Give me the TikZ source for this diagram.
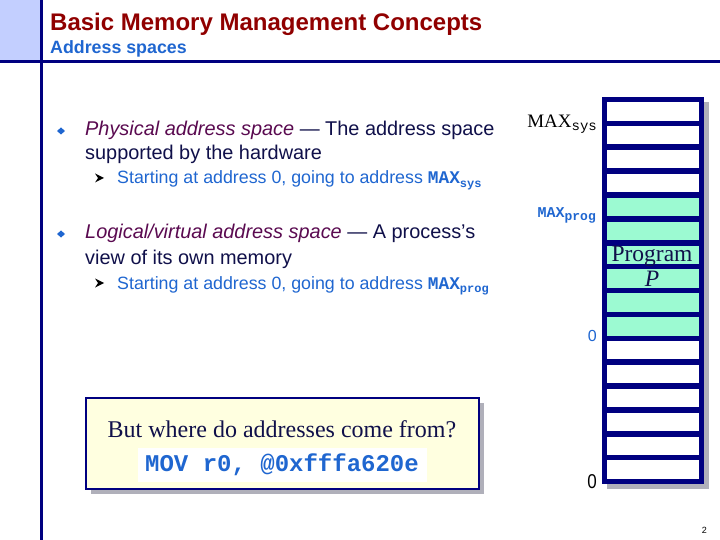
\documentclass[tikz,border=0pt]{standalone}
\usepackage{fontspec}
\setmainfont{Liberation Sans}
\setmonofont{Liberation Mono}
\newfontfamily\tms{Liberation Serif}
\definecolor{navy}{HTML}{000080}
\definecolor{titlered}{HTML}{900000}
\definecolor{subblue}{HTML}{1F66D0}
\definecolor{lav}{HTML}{C3CFFF}
\definecolor{ipurple}{HTML}{5A0A50}
\definecolor{bodyc}{HTML}{10104A}
\definecolor{cellgreen}{HTML}{9CFAD2}
\definecolor{shadowc}{HTML}{B0B0BA}
\definecolor{noteyellow}{HTML}{FFFFE0}
\newcommand{\fs}[1]{\fontsize{#1}{#1}\selectfont}
\newcommand{\maxsub}[1]{{\ttfamily\bfseries MAX\raisebox{-0.4ex}{\fs{12}#1}}}
\tikzset{
  txt/.style={inner sep=0pt, anchor=base west},
  cellbox/.style={draw=navy, line width=5.5pt},
  diam/.style={fill=subblue, draw=none},
  arrowhd/.style={fill=black, draw=none},
}
\begin{document}
\begin{tikzpicture}[x=1pt,y=-1pt]
\useasboundingbox (0,0) rectangle (720,540);
% header
\fill[lav] (0,0) rectangle (41,62);
\draw[navy, line width=3pt] (41,0) -- (41,540);
\draw[navy, line width=3pt] (0,62) -- (720,62);
\node[txt, text=titlered] (title) at (50,31) {\fs{24}\bfseries Basic Memory Management Concepts};
\node[txt, text=subblue] (subtitle) at (50,54) {\fs{17.8}\bfseries Address spaces};
% bullets
\fill[diam] (57,131) -- (61,127.5) -- (65,131) -- (61,134.5) -- cycle;
\node[txt, text=bodyc] (b1a) at (85,136) {\fs{19.9}\textcolor{ipurple}{\itshape Physical address space} — The address space};
\node[txt, text=bodyc] (b1b) at (85,160) {\fs{19.9}supported by the hardware};
\fill[arrowhd] (95,173.5) -- (104,178) -- (95,182.5) -- (98,178) -- cycle;
\node[txt, text=subblue] (s1) at (117,184) {\fs{17.8}Starting at address 0, going to address \maxsub{sys}};
\fill[diam] (57,234) -- (61,230.5) -- (65,234) -- (61,237.5) -- cycle;
\node[txt, text=bodyc] (b2a) at (85,239) {\fs{19.9}\textcolor{ipurple}{\itshape Logical/virtual address space} — A process’s};
\node[txt, text=bodyc] (b2b) at (85,264) {\fs{19.9}view of its own memory};
\fill[arrowhd] (95,278.5) -- (104,283) -- (95,287.5) -- (98,283) -- cycle;
\node[txt, text=subblue] (s2) at (117,289) {\fs{17.8}Starting at address 0, going to address \maxsub{prog}};
% memory column
\fill[shadowc] (607,102) rectangle (709,489);
\foreach \k in {0,...,15}{
  \pgfmathsetmacro{\ya}{99.5+23.875*\k}
  \pgfmathsetmacro{\yb}{99.5+23.875*(\k+1)}
  \ifnum\k>3 \ifnum\k<10
    \filldraw[cellbox, fill=cellgreen] (604.5,\ya) rectangle (701.5,\yb);
  \else
    \filldraw[cellbox, fill=white] (604.5,\ya) rectangle (701.5,\yb);
  \fi\else
    \filldraw[cellbox, fill=white] (604.5,\ya) rectangle (701.5,\yb);
  \fi
}
\node[inner sep=0pt, anchor=base east] (maxsys) at (597,128) {{\tms\fs{19}MAX}\raisebox{-0.45ex}{\ttfamily\fs{14}sys}};
\node[inner sep=0pt, anchor=base east, text=subblue] (maxprog) at (596,218) {{\ttfamily\bfseries\fs{15}MAX}\raisebox{-0.45ex}{\ttfamily\bfseries\fs{13}prog}};
\node[inner sep=0pt, anchor=base, text=bodyc] (prog) at (652,261) {\tms\fs{23.5}Program};
\node[inner sep=0pt, anchor=base, text=bodyc] (progp) at (652,286) {\tms\fs{23.5}\itshape P};
\node[inner sep=0pt, anchor=base east, text=subblue] (zero1) at (597,341) {\fs{16}0};
\node[inner sep=0pt, anchor=base east] (zero2) at (597,488) {\fs{20}\addfontfeatures{FakeStretch=0.85}0};
\node[inner sep=0pt, anchor=base east] (pnum) at (707,533) {\fs{9}2};
% callout
\fill[shadowc] (91,403) rectangle (484,494);
\filldraw[draw=navy, line width=2pt, fill=noteyellow] (86,398) rectangle (479,489);
\node[inner sep=0pt, anchor=base, text=bodyc] (q) at (282,437) {\tms\fs{24}But where do addresses come from?};
\fill[white] (138,448) rectangle (427,482);
\node[inner sep=0pt, anchor=base, text=subblue] (mov) at (282,471) {\ttfamily\bfseries\fs{24}MOV r0, @0xfffa620e};
\end{tikzpicture}
\end{document}
